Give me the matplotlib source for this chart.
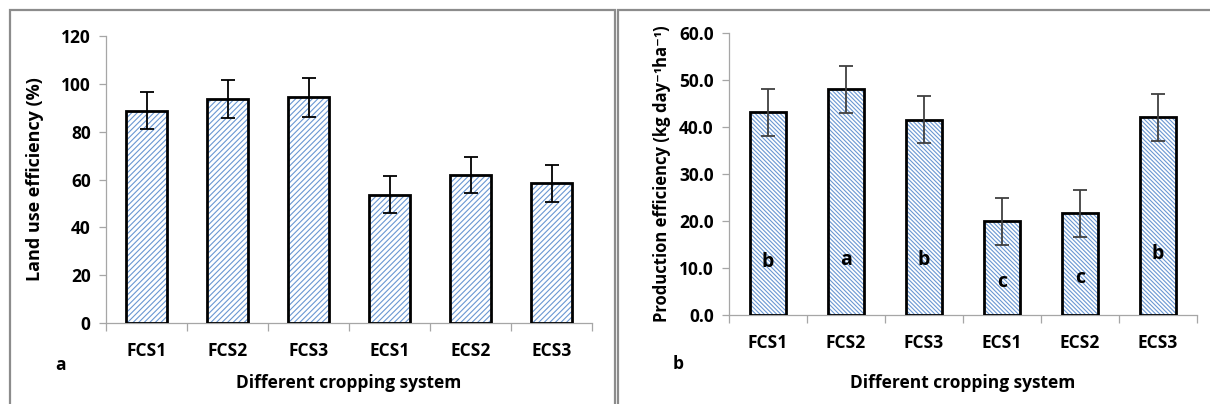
import matplotlib
matplotlib.use("Agg")
import matplotlib.pyplot as plt
from matplotlib.patches import Rectangle

categories = ["FCS1", "FCS2", "FCS3", "ECS1", "ECS2", "ECS3"]
land_use = [88.7, 93.6, 94.3, 53.7, 61.8, 58.4]
land_use_err = [7.7, 8.0, 8.0, 7.7, 7.6, 7.7]
prod_eff = [43.1, 48.0, 41.5, 20.0, 21.6, 42.1]
prod_eff_err = [5.0, 5.0, 5.0, 5.0, 5.0, 5.0]
letters = ["b", "a", "b", "c", "c", "b"]
letter_y = [11.3, 11.7, 11.7, 7.1, 7.8, 13.0]

FONT = "Open Sans"
plt.rcParams["font.family"] = [FONT, "DejaVu Sans"]
plt.rcParams["font.weight"] = "bold"
plt.rcParams["hatch.linewidth"] = 0.8

HATCH_C = "#6a97d2"
AX_C = "#a6a6a6"
FS = 12.5

fig = plt.figure(figsize=(12.10, 4.04), dpi=100)

# panel borders
fig.patches.append(Rectangle((10/1210, -0.1), (615-10)/1210, 1 - 10/404 + 0.1,
                             transform=fig.transFigure, fill=False,
                             edgecolor="#8c8c8c", linewidth=1.6))
fig.patches.append(Rectangle((618/1210, -0.1), (1215-618)/1210, 1 - 10/404 + 0.1,
                             transform=fig.transFigure, fill=False,
                             edgecolor="#8c8c8c", linewidth=1.6))


def style(ax, ymax, step, fmt):
    x = list(range(len(categories)))
    n = int(round(ymax / step)) + 1
    ax.set_xlim(-0.5, len(categories) - 0.5)
    ax.set_ylim(0, ymax)
    ax.set_yticks([i * step for i in range(n)])
    ax.set_yticklabels([fmt.format(i * step) for i in range(n)], fontweight="bold")
    ax.set_xticks([i - 0.5 for i in range(len(categories) + 1)])
    ax.set_xticklabels([])
    ax.set_xticks(x, minor=True)
    ax.set_xticklabels(categories, minor=True, fontweight="bold")
    ax.tick_params(axis="x", which="major", length=6, color=AX_C, width=0.9, direction="out")
    ax.tick_params(axis="x", which="minor", length=0, pad=14, labelsize=FS)
    ax.tick_params(axis="y", length=5, color=AX_C, width=0.9, labelsize=FS, pad=6)
    for s in ["top", "right"]:
        ax.spines[s].set_visible(False)
    for s in ["left", "bottom"]:
        ax.spines[s].set_color(AX_C)
        ax.spines[s].set_linewidth(0.9)


def bars(ax, vals, errs, width, hatch, ecolor):
    x = list(range(len(categories)))
    ax.bar(x, vals, width=width, color="white", edgecolor=HATCH_C, hatch=hatch,
           linewidth=0, zorder=2)
    ax.bar(x, vals, width=width, fill=False, edgecolor="black", linewidth=2.0, zorder=3)
    ax.errorbar(x, vals, yerr=errs, fmt="none", ecolor=ecolor, elinewidth=1.3,
                capsize=5, capthick=1.3, zorder=4)


# left panel
ax1 = fig.add_axes([106/1210, 1 - 323/404, 486/1210, 287/404])
bars(ax1, land_use, land_use_err, 0.5, "//////", "black")
style(ax1, 120, 20, "{:.0f}")
ax1.set_ylabel("Land use efficiency (%)", fontsize=13, fontweight="bold", labelpad=12)
fig.text(349/1210, 1 - 383/404, "Different cropping system", ha="center", va="center",
         fontsize=FS, fontweight="bold")
fig.text(60/1210, 1 - 365/404, "a", ha="center", va="center", fontsize=FS, fontweight="bold")

# right panel
ax2 = fig.add_axes([729/1210, 1 - 315/404, 468/1210, 282/404])
bars(ax2, prod_eff, prod_eff_err, 0.46, "\\\\\\\\\\\\\\\\", "#404040")
style(ax2, 60, 10, "{:.1f}")
ax2.set_ylabel("Production efficiency (kg day\u207b\u00b9ha\u207b\u00b9)",
               fontsize=12, fontweight="bold", labelpad=6)
for i, (t, yy) in enumerate(zip(letters, letter_y)):
    ax2.text(i, yy, t, ha="center", va="center", fontsize=14, fontweight="bold", zorder=5)
fig.text(963/1210, 1 - 383/404, "Different cropping system", ha="center", va="center",
         fontsize=FS, fontweight="bold")
fig.text(678/1210, 1 - 364/404, "b", ha="center", va="center", fontsize=FS, fontweight="bold")

fig.savefig("out.png", dpi=100)
